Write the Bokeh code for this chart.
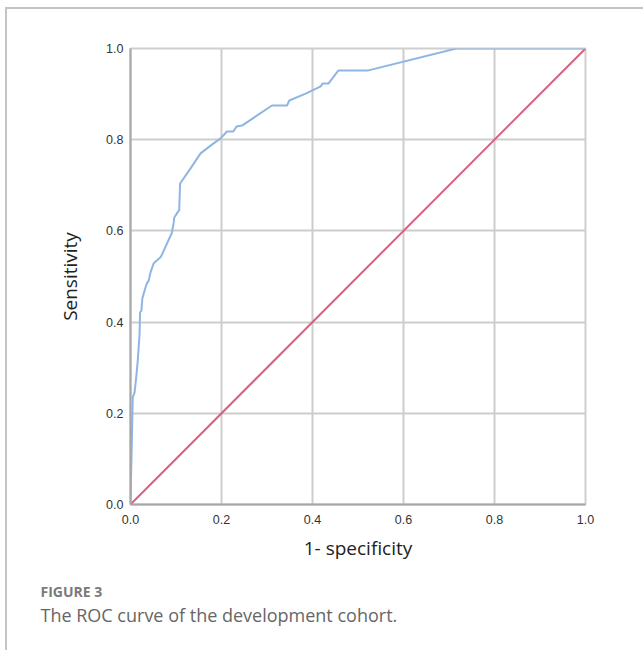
from bokeh.plotting import figure
from bokeh.models import Range1d, FixedTicker, PrintfTickFormatter, Title
from bokeh.embed import file_html
from bokeh.resources import INLINE

# ROC curve (1 - specificity, sensitivity)
fpr = [0.0, 0.001, 0.003, 0.005, 0.009, 0.013, 0.016, 0.020, 0.021, 0.024,
       0.026, 0.033, 0.036, 0.040, 0.044, 0.051, 0.066, 0.070, 0.091, 0.095,
       0.096, 0.103, 0.107, 0.109, 0.132, 0.154, 0.176, 0.198, 0.212, 0.226,
       0.233, 0.245, 0.311, 0.344, 0.349, 0.385, 0.418, 0.422, 0.435, 0.457,
       0.523, 0.716, 1.0]
tpr = [0.0, 0.053, 0.140, 0.235, 0.246, 0.283, 0.316, 0.375, 0.421, 0.425,
       0.452, 0.476, 0.485, 0.491, 0.509, 0.529, 0.542, 0.550, 0.596, 0.618,
       0.629, 0.640, 0.645, 0.704, 0.737, 0.770, 0.787, 0.803, 0.818, 0.818,
       0.829, 0.831, 0.875, 0.875, 0.886, 0.901, 0.917, 0.923, 0.923, 0.952,
       0.952, 1.0, 1.0]
ref_x = [0.0, 1.0]
ref_y = [0.0, 1.0]
ticks = [0.0, 0.2, 0.4, 0.6, 0.8, 1.0]
x_label = "1- specificity"
y_label = "Sensitivity"
caption_head = "FIGURE 3"
caption_text = "The ROC curve of the development cohort."

p = figure(width=643, height=650, x_range=Range1d(0, 1), y_range=Range1d(0, 1),
           output_backend="svg", toolbar_location=None,
           min_border_left=130, min_border_right=58,
           min_border_top=48, min_border_bottom=146,
           x_axis_label=x_label, y_axis_label=y_label)

p.border_fill_color = None
p.background_fill_color = "white"
p.outline_line_color = "#cfcfcf"
p.outline_line_width = 2
p.styles = {
    "background": "linear-gradient(#c4c4c4,#c4c4c4) 5px 7px / 100% 2px no-repeat, "
                  "linear-gradient(#c4c4c4,#c4c4c4) 5px 7px / 2px 100% no-repeat, white"
}

for ax in (p.xaxis, p.yaxis):
    ax.ticker = FixedTicker(ticks=ticks)
    ax.formatter = PrintfTickFormatter(format="%.1f")
    ax.axis_line_color = "#a6a6a6"
    ax.axis_line_width = 2
    ax.major_tick_line_color = None
    ax.minor_tick_line_color = None
    ax.major_tick_out = 0
    ax.major_tick_in = 0
    ax.major_label_text_font = "Liberation Sans"
    ax.major_label_text_font_size = "12.5px"
    ax.major_label_text_color = "#333333"
    ax.axis_label_text_font = "Open Sans"
    ax.axis_label_text_font_size = "19px"
    ax.axis_label_text_font_style = "normal"
    ax.axis_label_text_color = "#222222"

p.xaxis.major_label_standoff = 10
p.yaxis.major_label_standoff = 7
p.xaxis.axis_label_standoff = 8
p.yaxis.axis_label_standoff = 20

p.grid.ticker = FixedTicker(ticks=ticks)
p.grid.grid_line_color = "#cdcdcd"
p.grid.grid_line_width = 2

p.line(ref_x, ref_y, line_color="#d9607d", line_width=2)
p.line(fpr, tpr, line_color="#8fb5e3", line_width=2)

spacer = Title(text=" ", align="left", offset=-90, standoff=-7,
               text_font="Open Sans", text_font_size="14px", text_font_style="bold",
               text_color="#ffffff", text_line_height=0.8)
t1 = Title(text=caption_head, align="left", offset=-90, standoff=4,
           text_font="Open Sans", text_font_size="14px", text_font_style="bold",
           text_color="#7a7a7a", text_line_height=0.8)
t2 = Title(text=caption_text, align="left", offset=-90, standoff=0,
           text_font="Open Sans", text_font_size="18px", text_font_style="normal",
           text_color="#666666", vertical_align="top")
p.add_layout(spacer, "below")
p.add_layout(t1, "below")
p.add_layout(t2, "below")

open("out.html", "w").write(file_html(p, INLINE))
